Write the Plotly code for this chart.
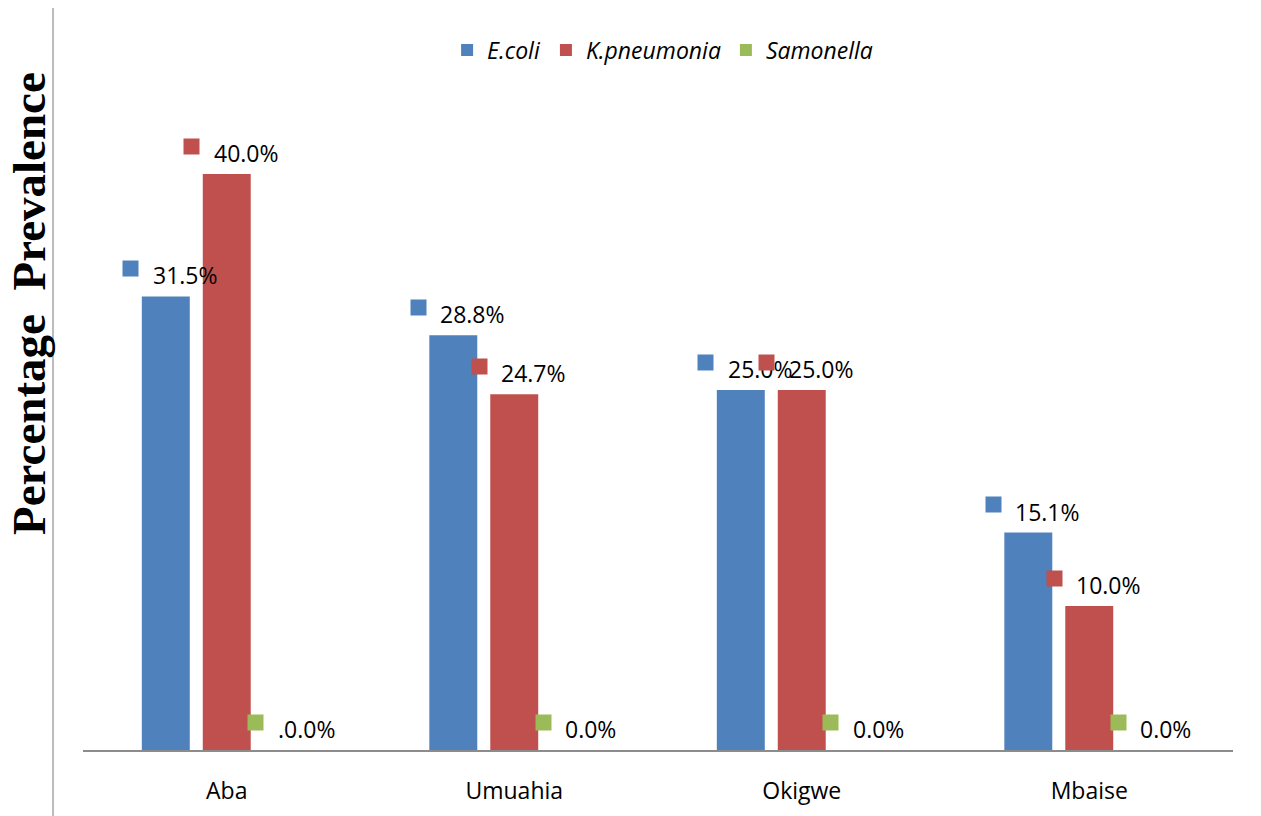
import plotly.graph_objects as go

# Prevalence (%) of each organism by sampling site
sites = ["Aba", "Umuahia", "Okigwe", "Mbaise"]
ecoli = [31.5, 28.8, 25.0, 15.1]
kpneumonia = [40.0, 24.7, 25.0, 10.0]
samonella = [0.0, 0.0, 0.0, 0.0]

ecoli_labels = [f"{v:.1f}%" for v in ecoli]
kpneumonia_labels = [f"{v:.1f}%" for v in kpneumonia]
samonella_labels = [".0.0%"] + [f"{v:.1f}%" for v in samonella[1:]]

series_names = ["E.coli", "K.pneumonia", "Samonella"]
colors = ["#4F81BD", "#C0504D", "#9BBB59"]

W, H = 1261, 816
ML, MR, MT, MB = 83, 28, 102, 66
plot_w = W - ML - MR
plot_h = H - MT - MB
FONT = "Open Sans"
FS = 23

fig = go.Figure()
for name, vals, color in zip(series_names, [ecoli, kpneumonia, samonella], colors):
    fig.add_trace(go.Bar(
        x=sites, y=vals, name=f"<i>{name}</i>",
        marker=dict(color=color, line=dict(width=0)),
        hoverinfo="x+y",
    ))

# Data labels: a small colour key followed by the value text, per bar
slot = plot_w / len(sites) * (1 - 0.364) / 3
annotations = []
label_sets = [ecoli_labels, kpneumonia_labels, samonella_labels]
key_dx = [-35, -35, -32]
text_dx = [-15, -15, -12]
for j, (vals, labels, color) in enumerate(zip([ecoli, kpneumonia, samonella], label_sets, colors)):
    off = (j - 1) * slot
    for cat, v, lab in zip(sites, vals, labels):
        annotations.append(dict(
            x=cat, y=v, xref="x", yref="y", text=" ", showarrow=False,
            bgcolor=color, width=15, height=15, borderpad=0,
            font=dict(size=8),
            xanchor="center", yanchor="middle",
            xshift=off + key_dx[j], yshift=28,
        ))
        annotations.append(dict(
            x=cat, y=v, xref="x", yref="y", text=lab, showarrow=False,
            font=dict(family=FONT, size=FS, color="#000000"),
            xanchor="left", yanchor="middle",
            xshift=off + text_dx[j], yshift=21,
        ))

# Rotated value-axis title to the left of the frame line
annotations.append(dict(
    x=0, y=(MT + plot_h - 304) / plot_h, xref="paper", yref="paper",
    text="Percentage\u00a0 Prevalence", textangle=-90, showarrow=False,
    font=dict(family="Liberation Serif", size=47, color="#000000", weight="bold"),
    xanchor="center", yanchor="middle", xshift=-54,
))

line_x = (53 - ML) / plot_w
shapes = [dict(
    type="line", xref="paper", yref="paper",
    x0=line_x, x1=line_x, y0=(MT + plot_h - H) / plot_h, y1=(MT + plot_h - 8) / plot_h,
    line=dict(color="#A6A6A6", width=1.5),
)]

fig.update_layout(
    width=W, height=H,
    margin=dict(l=ML, r=MR, t=MT, b=MB, autoexpand=False),
    paper_bgcolor="white", plot_bgcolor="white",
    barmode="group", bargap=0.364, bargroupgap=0.213,
    showlegend=True,
    legend=dict(
        orientation="h", x=0.504, xanchor="center", y=(MT + plot_h - 50) / plot_h,
        yanchor="middle", font=dict(family=FONT, size=FS, color="#000000"),
        itemclick=False, traceorder="normal",
    ),
    xaxis=dict(
        showline=True, linecolor="#8C8C8C", linewidth=1.5,
        ticks="", showgrid=False, zeroline=False,
        tickfont=dict(family=FONT, size=FS, color="#000000"),
        ticklabelstandoff=20,
    ),
    yaxis=dict(range=[0, 45], visible=False, showgrid=False, zeroline=False),
    annotations=annotations,
    shapes=shapes,
)

fig.write_html("out.html")
